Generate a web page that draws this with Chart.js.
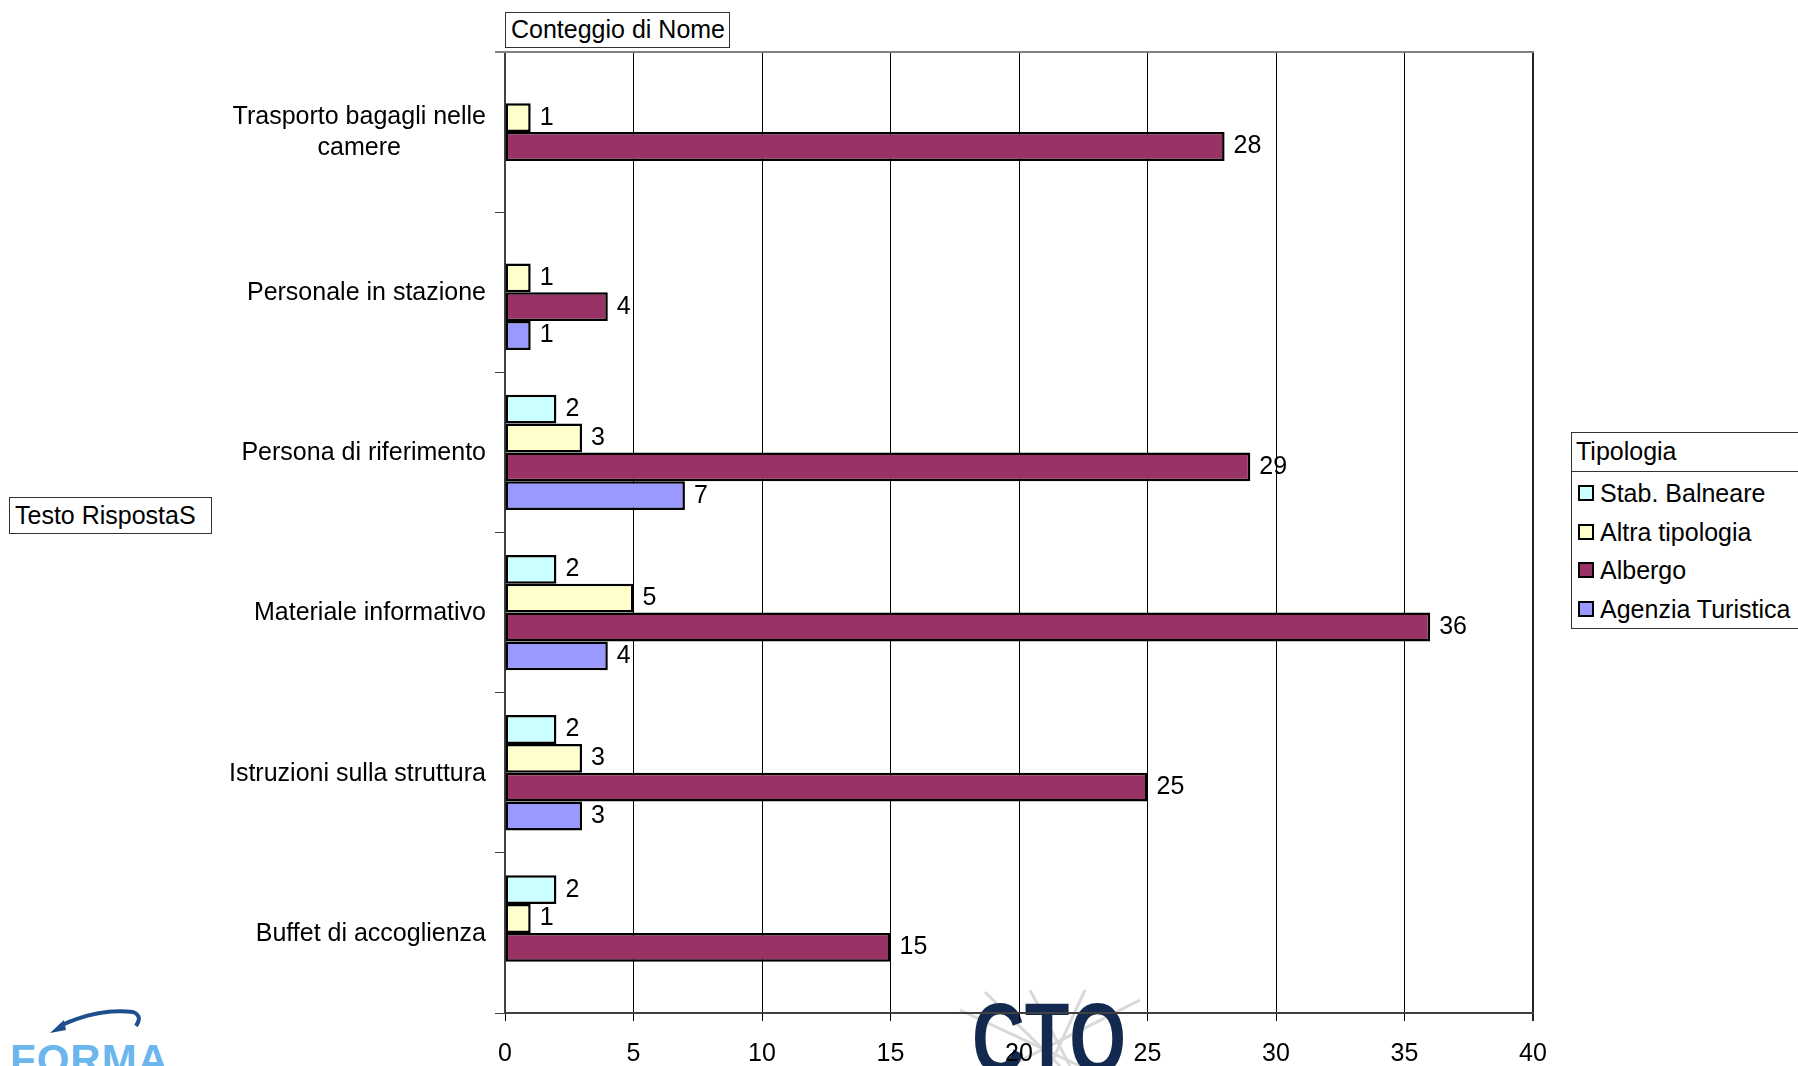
<!DOCTYPE html>
<html>
<head>
<meta charset="utf-8">
<script src="https://cdn.jsdelivr.net/npm/chart.js@4/dist/chart.umd.min.js"></script>
<style>
html,body{margin:0;padding:0;background:#fff;overflow:hidden;}
#wrap{position:relative;width:1798px;height:1066px;overflow:hidden;}
#c{position:absolute;left:0;top:0;z-index:2;}
.txt{font-family:"Liberation Sans",Arial,sans-serif;font-size:25px;color:#000;}
.box{position:absolute;border:1px solid #333;background:#fff;box-sizing:border-box;z-index:3;white-space:nowrap;}
#title{left:505px;top:12px;width:225px;height:36px;line-height:33px;padding-left:5px;}
#ytitle{left:9px;top:497px;width:203px;height:37px;line-height:35px;padding-left:5px;}
#legend{left:1571px;top:432px;width:240px;height:197px;}
#legend .head{height:39px;line-height:37px;padding-left:4px;border-bottom:1px solid #333;box-sizing:border-box;}
#legend .item{position:absolute;left:6px;height:30px;line-height:30px;}
#legend .sw{display:inline-block;width:12px;height:12px;border:2px solid #000;vertical-align:middle;margin-right:6px;position:relative;top:-2px;}
#logos{position:absolute;left:0;top:0;width:1798px;height:1066px;z-index:1;}
#ctq{position:absolute;left:972px;top:988px;font:bold 100px "Liberation Sans",Arial,sans-serif;line-height:100px;color:#13294f;transform:scaleX(0.73);transform-origin:left top;white-space:nowrap;}
#forma{position:absolute;left:10px;top:1039px;font:bold 42px "Liberation Sans",Arial,sans-serif;line-height:42px;color:#6cb6ee;letter-spacing:1px;white-space:nowrap;}
</style>
</head>
<body>
<div id="wrap">
  <div id="logos">
    <svg width="1798" height="1066" style="position:absolute;left:0;top:0">
      <g stroke="#d9d9d9" stroke-width="3" fill="none">
        <line x1="960" y1="1010" x2="1080" y2="1066"/>
        <line x1="985" y1="992" x2="1060" y2="1066"/>
        <line x1="1140" y1="1000" x2="1010" y2="1066"/>
        <line x1="1085" y1="990" x2="1050" y2="1066"/>
        <line x1="1030" y1="990" x2="1070" y2="1066"/>
      </g>
      <path d="M60 1026 Q 97 1008 133 1012 Q 143 1016 136 1026" stroke="#1d4f8c" stroke-width="4" fill="none"/>
      <polygon points="50,1033 64,1020 66,1030" fill="#1d4f8c"/>
    </svg>
    <div id="ctq">CTQ</div>
    <div id="forma">FORMA</div>
  </div>
  <canvas id="c" width="1798" height="1066"></canvas>
  <div id="title" class="box txt">Conteggio di Nome</div>
  <div id="ytitle" class="box txt">Testo RispostaS</div>
  <div id="legend" class="box txt"></div>
</div>
<script>
const categories = [["Trasporto bagagli nelle","camere"],"Personale in stazione","Persona di riferimento","Materiale informativo","Istruzioni sulla struttura","Buffet di accoglienza"];
const seriesNames = ["Stab. Balneare","Altra tipologia","Albergo","Agenzia Turistica"];
const stabBalneare     = [null, null, 2, 2, 2, 2];
const altraTipologia   = [1, 1, 3, 5, 3, 1];
const albergo          = [28, 4, 29, 36, 25, 15];
const agenziaTuristica = [null, 1, 7, 4, 3, null];
const xTickValues = [0,5,10,15,20,25,30,35,40];
const legendTitle = "Tipologia";

const colors = ['#CCFFFF','#FFFFCC','#993366','#9999FF'];
const seriesValues = [stabBalneare, altraTipologia, albergo, agenziaTuristica];
const FONT = '"Liberation Sans", Arial, sans-serif';

// HTML legend
const lg = document.getElementById('legend');
let html = '<div class="head">' + legendTitle + '</div>';
const itemTops = [45, 83.5, 122, 160.5];
seriesNames.forEach((n,i)=>{
  html += '<div class="item" style="top:' + (itemTops[i]) + 'px"><span class="sw" style="background:' + colors[i] + '"></span>' + n + '</div>';
});
lg.innerHTML = html;

const valueLabels = {
  id:'valueLabels',
  afterDatasetsDraw(chart){
    const ctx = chart.ctx;
    ctx.save();
    ctx.font = '25px ' + FONT;
    ctx.fillStyle = '#000';
    ctx.textAlign = 'left';
    ctx.textBaseline = 'middle';
    chart.data.datasets.forEach((ds,di)=>{
      const meta = chart.getDatasetMeta(di);
      meta.data.forEach((el,i)=>{
        const v = ds.data[i];
        if (v === null || v === undefined) return;
        ctx.fillText(String(v), el.x + 9, el.y);
      });
    });
    ctx.restore();
  }
};

const frame = {
  id:'frame',
  afterDraw(chart){
    const ctx = chart.ctx, a = chart.chartArea;
    ctx.save();
    ctx.strokeStyle = '#808080';
    ctx.lineWidth = 2;
    ctx.beginPath();
    ctx.moveTo(a.left - 10, a.top);
    ctx.lineTo(a.right + 1, a.top);
    ctx.stroke();
    const ys = chart.scales.y;
    ctx.font = '25px ' + FONT;
    ctx.fillStyle = '#000';
    ctx.textBaseline = 'middle';
    ctx.textAlign = 'center';
    const rightEdge = a.left - 19;
    const lh = 31;
    chart.data.labels.forEach((lab,i)=>{
      const lines = Array.isArray(lab) ? lab : [lab];
      const w = Math.max(...lines.map(l=>ctx.measureText(l).width));
      const cx = rightEdge - w/2;
      const cy = ys.getPixelForTick(i);
      const y0 = cy - (lines.length-1)*lh/2;
      lines.forEach((l,k)=>ctx.fillText(l, cx, y0 + k*lh + 1));
    });
    ctx.restore();
  }
};

new Chart(document.getElementById('c'), {
  type:'bar',
  data:{
    labels: categories,
    datasets: seriesNames.map((n,i)=>({
      label:n,
      data: seriesValues[i],
      backgroundColor: colors[i],
      borderColor:'#000',
      borderWidth:2.5,
      borderSkipped:false,
      categoryPercentage:0.72,
      barPercentage:1.0
    }))
  },
  options:{
    indexAxis:'y',
    responsive:false,
    animation:false,
    events:[],
    layout:{padding:{left:0, top:52, right:265, bottom:0}},
    plugins:{legend:{display:false}, tooltip:{enabled:false}},
    scales:{
      x:{
        min:0, max:40,
        afterBuildTicks(s){ s.ticks = xTickValues.map(v=>({value:v})); },
        ticks:{font:{size:25, family:FONT}, color:'#000', padding:18, maxRotation:0},
        grid:{color:(c)=> c.tick && c.tick.value===40 ? '#222' : '#000', lineWidth:(c)=> c.tick && c.tick.value===40 ? 2 : 1, tickLength:8, drawTicks:true},
        border:{color:'#404040', width:2},
        afterFit(s){ s.height = 53; }
      },
      y:{
        ticks:{display:false},
        grid:{offset:true, drawOnChartArea:false, drawTicks:true, tickLength:10, color:'#404040', lineWidth:1},
        border:{color:'#404040', width:2},
        afterFit(s){ s.width = 505; }
      }
    }
  },
  plugins:[valueLabels, frame]
});
</script>
</body>
</html>
